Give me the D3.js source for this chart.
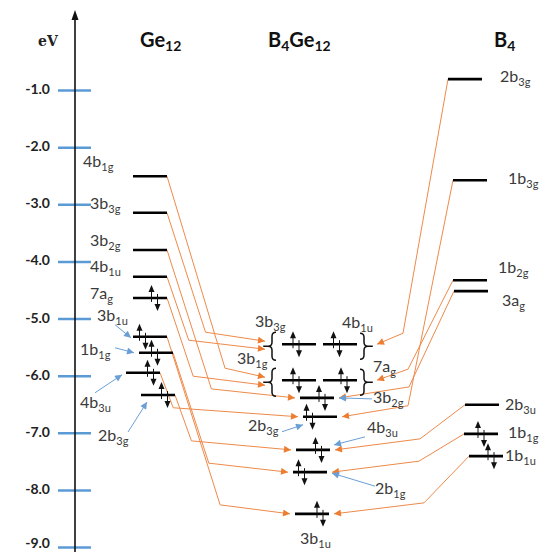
<!DOCTYPE html>
<html>
<head>
<meta charset="utf-8">
<script src="https://cdn.jsdelivr.net/npm/d3@7"></script>
<style>
  body { margin: 0; background: #fff; }
</style>
</head>
<body>
<svg width="544" height="552"></svg>
<script>
// ---- data (energies in eV) ----
var columns = ["Ge12", "B4Ge12", "B4"];
var yTicks = [-1, -2, -3, -4, -5, -6, -7, -8, -9];

var ge12Labels = ["4b1g", "3b3g", "3b2g", "4b1u", "7ag", "3b1u", "1b1g", "4b3u", "2b3g"];
var ge12Energy = [-2.51, -3.15, -3.80, -4.27, -4.64, -5.32, -5.60, -5.95, -6.34];
var ge12Electrons = [0, 0, 0, 0, 2, 2, 2, 2, 2];

var b4ge12Labels = ["3b3g", "4b1u", "3b1g", "7ag", "3b2g", "2b3g", "4b3u", "2b1g", "3b1u"];
var b4ge12Energy = [-5.45, -5.45, -6.08, -6.08, -6.39, -6.72, -7.30, -7.69, -8.42];
var b4ge12Electrons = [2, 2, 2, 2, 2, 2, 2, 2, 2];

var b4Labels = ["2b3g", "1b3g", "1b2g", "3ag", "2b3u", "1b1g", "1b1u"];
var b4Energy = [-0.81, -2.58, -4.33, -4.52, -6.51, -7.02, -7.41];
var b4Electrons = [0, 0, 0, 0, 0, 2, 2];

// degenerate pairs drawn with braces in the middle column
var bracePairs = [["3b3g", "4b1u"], ["3b1g", "7ag"]];

// correlation lines: fragment level -> B4Ge12 level
var leftLinks = [["4b1g", "3b1g"], ["3b3g", "3b3g"], ["3b2g", "3b2g"], ["4b1u", "4b1u"], ["7ag", "7ag"],
                 ["3b1u", "3b1u"], ["1b1g", "2b1g"], ["4b3u", "2b3g"], ["2b3g", "4b3u"]];
var rightLinks = [["2b3g", "4b1u"], ["1b3g", "2b3g"], ["1b2g", "7ag"], ["3ag", "3b2g"],
                  ["2b3u", "4b3u"], ["1b1g", "2b1g"], ["1b1u", "3b1u"]];

// labels that get a small blue pointer
var pointers = [["Ge12", "3b1u"], ["Ge12", "1b1g"], ["Ge12", "4b3u"], ["Ge12", "2b3g"],
                ["B4Ge12", "3b2g"], ["B4Ge12", "2b3g"], ["B4Ge12", "4b3u"], ["B4Ge12", "2b1g"]];

// ---- layout ----
var svg = d3.select("svg");
var y = d3.scaleLinear().domain([-1, -9]).range([90, 547]);
var LW = 34;
var orange = "#ee8a4a", blue = "#6a9fd6", txt = "#3a3a3a";
var labelFont = "Lato, 'Open Sans', sans-serif";

// left x of each level line, electron offset from centre, label offset
var layout = {
  "Ge12|4b1g": { x: 133, lx: -50, ly: -9 },
  "Ge12|3b3g": { x: 133, lx: -43, ly: -4 },
  "Ge12|3b2g": { x: 133, lx: -43, ly: -4 },
  "Ge12|4b1u": { x: 133, lx: -43, ly: -5 },
  "Ge12|7ag":  { x: 133, e: 4.5, lx: -43, ly: 1 },
  "Ge12|3b1u": { x: 133, e: -7.5, lx: -36, ly: -16 },
  "Ge12|1b1g": { x: 139, e: -1.5, lx: -59, ly: 2 },
  "Ge12|4b3u": { x: 126, e: 7.5, lx: -46, ly: 35 },
  "Ge12|2b3g": { x: 141, e: 6.5, lx: -43, ly: 46 },

  "B4Ge12|3b3g": { x: 282, e: -3, lx: -27, ly: -17 },
  "B4Ge12|4b1u": { x: 323, e: -3.5, lx: 19, ly: -16 },
  "B4Ge12|3b1g": { x: 282, e: -3, lx: -45, ly: -16 },
  "B4Ge12|7ag":  { x: 323, e: 4, lx: 50, ly: -8 },
  "B4Ge12|3b2g": { x: 300, e: 5, lx: 73, ly: 5 },
  "B4Ge12|2b3g": { x: 303, e: -10.5, lx: -55, ly: 14 },
  "B4Ge12|4b3u": { x: 296, e: 5.5, lx: 71, ly: -17 },
  "B4Ge12|2b1g": { x: 293, e: -8.5, lx: 82, ly: 22 },
  "B4Ge12|3b1u": { x: 295, e: 8, lx: 5, ly: 30 },

  "B4|2b3g": { x: 448, lx: 52, ly: 3 },
  "B4|1b3g": { x: 453, lx: 55, ly: 4 },
  "B4|1b2g": { x: 453, lx: 45, ly: -7 },
  "B4|3ag":  { x: 454, lx: 48, ly: 15 },
  "B4|2b3u": { x: 465, lx: 40, ly: 5 },
  "B4|1b1g": { x: 464, e: 0, lx: 44, ly: 4 },
  "B4|1b1u": { x: 469, e: 5, lx: 36, ly: 5 }
};

// pointer start (relative to label) and tip (relative to level)
var pointerGeom = {
  "Ge12|3b1u": { sx: 18, sy: 4, side: "l", ex: -2, ey: 1 },
  "Ge12|1b1g": { sx: 35, sy: -7, side: "l", ex: -5, ey: 0 },
  "Ge12|4b3u": { sx: 15, sy: -15, side: "l", ex: -4, ey: 2 },
  "Ge12|2b3g": { sx: 30, sy: -9, side: "l", ex: 6, ey: 7 },
  "B4Ge12|3b2g": { sx: -1, sy: -4, side: "r", ex: 5, ey: 0 },
  "B4Ge12|2b3g": { sx: 34, sy: 1, side: "l", ex: 0, ey: 8 },
  "B4Ge12|4b3u": { sx: -2, sy: 4, side: "r", ex: 4, ey: -5 },
  "B4Ge12|2b1g": { sx: 0, sy: -8, side: "r", ex: 5, ey: 1 }
};

function buildLevels(col, labels, energy, electrons) {
  return labels.map(function (l, i) {
    var L = layout[col + "|" + l];
    return { col: col, label: l, energy: energy[i], el: electrons[i],
             x: L.x, y: y(energy[i]), e: L.e || 0, lx: L.lx, ly: L.ly };
  });
}
var levels = buildLevels("Ge12", ge12Labels, ge12Energy, ge12Electrons)
  .concat(buildLevels("B4Ge12", b4ge12Labels, b4ge12Energy, b4ge12Electrons))
  .concat(buildLevels("B4", b4Labels, b4Energy, b4Electrons));
function lev(col, label) {
  return levels.filter(function (d) { return d.col === col && d.label === label; })[0];
}
function pairOf(label) {
  return bracePairs.filter(function (p) { return p.indexOf(label) >= 0; })[0];
}

// markers
var defs = svg.append("defs");
function marker(id, color, w, h) {
  defs.append("marker").attr("id", id).attr("viewBox", "0 0 10 10")
    .attr("refX", 10).attr("refY", 5).attr("markerUnits", "userSpaceOnUse")
    .attr("markerWidth", w).attr("markerHeight", h).attr("orient", "auto")
    .append("path").attr("d", "M0,0L10,5L0,10z").attr("fill", color);
}
marker("orangeHead", "#ed7d31", 8, 7);
marker("blueHead", blue, 8, 7);

// ---- energy axis ----
var ax = svg.append("g").attr("transform", "translate(75,0)")
  .call(d3.axisLeft(y).tickValues(yTicks)
    .tickFormat(function (d) { return d.toFixed(1); })
    .tickSize(0).tickPadding(25));
ax.select(".domain").remove();
ax.selectAll(".tick line").attr("x1", -17).attr("x2", 16)
  .attr("stroke", "#5b9bd5").attr("stroke-width", 2.5);
ax.selectAll(".tick text").attr("font-family", labelFont).attr("font-weight", "bold")
  .attr("font-size", 14).attr("fill", "#222")
  .attr("dy", function (d) { return d === -9 ? "0.05em" : "0.25em"; });

svg.append("line").attr("x1", 75).attr("x2", 75).attr("y1", 552).attr("y2", 18)
  .attr("stroke", "#111").attr("stroke-width", 1.6);
svg.append("path").attr("d", "M75,10L71.5,20L78.5,20Z").attr("fill", "#111");

svg.append("text").attr("x", 38).attr("y", 46).text("eV")
  .attr("font-family", "'DejaVu Serif', 'Liberation Serif', serif").attr("font-weight", "bold")
  .attr("font-size", 14).attr("fill", "#222");

// ---- column headers ----
var headerX = d3.scaleOrdinal().domain(columns).range([140, 268, 494]);
columns.forEach(function (c) {
  var t = svg.append("text").attr("x", headerX(c)).attr("y", 51)
    .attr("font-family", labelFont).attr("font-weight", "bold").attr("font-size", 20).attr("fill", "#111");
  c.split(/(\d+)/).filter(function (s) { return s.length; }).forEach(function (s) {
    var isSub = /\d/.test(s);
    t.append("tspan").text(s).attr("font-size", isSub ? 14 : 20)
      .attr("dy", isSub ? 4 : (t.selectAll("tspan").size() > 0 ? -4 : 0));
  });
});

// ---- correlation lines ----
var braceLX = 272, braceRX = 364;
function leftTarget(label) {
  var d = lev("B4Ge12", label), p = pairOf(label);
  if (p) return [braceLX - 7, d.y + (p[0] === label ? -3 : 5)];
  return [d.x - 5, d.y];
}
function rightTarget(label) {
  var d = lev("B4Ge12", label), p = pairOf(label);
  if (p) return [braceRX + 13, d.y];
  return [d.x + LW + 5, d.y];
}
var links = svg.append("g").attr("fill", "none").attr("stroke", orange).attr("stroke-width", 1);
leftLinks.forEach(function (k) {
  var s = lev("Ge12", k[0]), t = leftTarget(k[1]);
  var x0 = s.x + LW, y0 = s.y;
  var bx = Math.max(x0 + 8, Math.min(x0 + 0.3 * (t[1] - y0), t[0] - 40));
  links.append("path").attr("d", d3.line()([[x0, y0], [bx, t[1] - 9], t]))
    .attr("marker-end", "url(#orangeHead)");
});
rightLinks.forEach(function (k) {
  var s = lev("B4", k[0]), t = rightTarget(k[1]);
  var x0 = s.x, y0 = s.y;
  var bx = Math.max(400, x0 - 45);
  links.append("path").attr("d", d3.line()([[x0, y0], [bx, t[1] - 11], t]))
    .attr("marker-end", "url(#orangeHead)");
});

// ---- braces for degenerate pairs ----
function bracePath(x, yc, h, dir) {
  // dir = -1 for "{", +1 for "}"
  var r = 4 * dir;
  return "M" + (x - r) + "," + (yc - h) +
    "Q" + x + "," + (yc - h) + " " + x + "," + (yc - h + 4) +
    "L" + x + "," + (yc - 4) +
    "Q" + x + "," + yc + " " + (x + r) + "," + yc +
    "Q" + x + "," + yc + " " + x + "," + (yc + 4) +
    "L" + x + "," + (yc + h - 4) +
    "Q" + x + "," + (yc + h) + " " + (x - r) + "," + (yc + h) +
    "M" + (x + r) + "," + yc + "L" + (x + 2.2 * r) + "," + yc;
}
var braces = svg.append("g").attr("fill", "none").attr("stroke", "#111").attr("stroke-width", 1.5);
bracePairs.forEach(function (p) {
  var yc = lev("B4Ge12", p[0]).y + 2;
  braces.append("path").attr("d", bracePath(braceLX, yc, 14, -1));
  braces.append("path").attr("d", bracePath(braceRX, yc, 13, 1));
});

// ---- level lines ----
svg.append("g").selectAll("line").data(levels).join("line")
  .attr("x1", function (d) { return d.x; })
  .attr("x2", function (d) { return d.x + LW; })
  .attr("y1", function (d) { return d.y; })
  .attr("y2", function (d) { return d.y; })
  .attr("stroke", "#000").attr("stroke-width", 2.6);

// ---- electrons ----
var el = svg.append("g");
levels.filter(function (d) { return d.el === 2; }).forEach(function (d) {
  var cx = d.x + LW / 2 + d.e, yy = d.y;
  var ux = cx - 3, dx = cx + 3;
  el.append("line").attr("x1", ux).attr("x2", ux).attr("y1", yy + 4).attr("y2", yy - 7)
    .attr("stroke", "#111").attr("stroke-width", 1);
  el.append("path").attr("d", "M" + ux + "," + (yy - 13) + "L" + (ux - 3) + "," + (yy - 6) + "L" + (ux + 3) + "," + (yy - 6) + "Z")
    .attr("fill", "#111");
  el.append("line").attr("x1", dx).attr("x2", dx).attr("y1", yy - 4).attr("y2", yy + 7)
    .attr("stroke", "#111").attr("stroke-width", 1);
  el.append("path").attr("d", "M" + dx + "," + (yy + 13) + "L" + (dx - 3) + "," + (yy + 6) + "L" + (dx + 3) + "," + (yy + 6) + "Z")
    .attr("fill", "#111");
});

// ---- level labels ----
var lab = svg.append("g").attr("font-family", labelFont).attr("fill", txt);
levels.forEach(function (d) {
  var t = lab.append("text").attr("x", d.x + d.lx).attr("y", d.y + d.ly).attr("font-size", 16);
  t.append("tspan").text(d.label.slice(0, 2));
  t.append("tspan").text(d.label.slice(2)).attr("font-size", 11).attr("dy", 4);
});

// ---- blue pointers ----
var pg = svg.append("g").attr("stroke", blue).attr("stroke-width", 1).attr("fill", "none");
pointers.forEach(function (p) {
  var d = lev(p[0], p[1]), g = pointerGeom[p[0] + "|" + p[1]];
  var sx = d.x + d.lx + g.sx, sy = d.y + d.ly + g.sy;
  var ex = (g.side === "l" ? d.x : d.x + LW) + g.ex, ey = d.y + g.ey;
  pg.append("line").attr("x1", sx).attr("y1", sy).attr("x2", ex).attr("y2", ey)
    .attr("marker-end", "url(#blueHead)");
});
</script>
</body>
</html>
